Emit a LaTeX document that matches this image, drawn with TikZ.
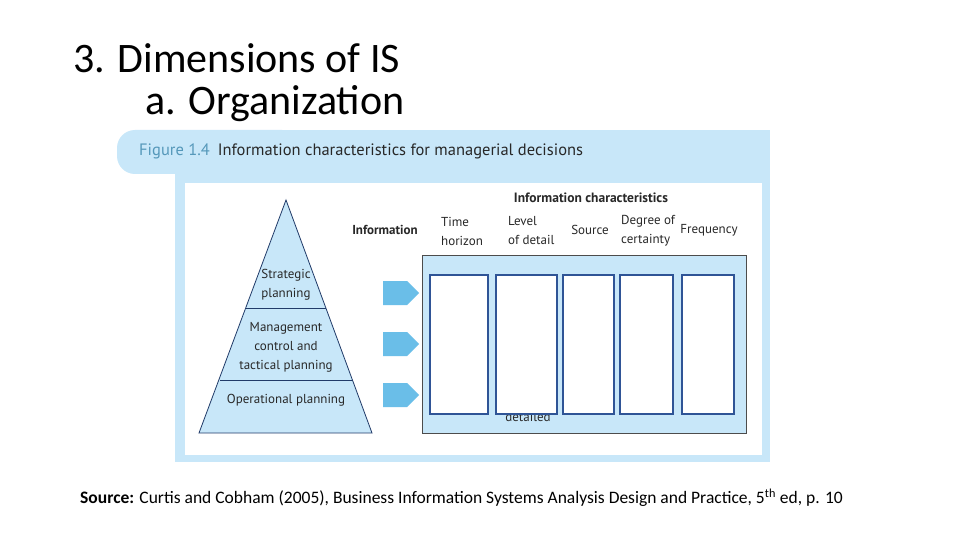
\documentclass[tikz,border=0pt]{standalone}
\usepackage{fontspec}
\setmainfont{Carlito}
\newfontfamily\figfont{PT Sans}
\usetikzlibrary{shapes.arrows}
\definecolor{lb}{RGB}{200,231,249}
\definecolor{hb}{RGB}{106,190,232}
\definecolor{db}{RGB}{47,84,150}
\definecolor{tx}{RGB}{40,40,40}
\tikzset{
 lbl/.style={font=\figfont\fontsize{13}{19}\selectfont,text=tx,align=left,inner sep=0},
 col/.style={draw=db,line width=1.2pt,fill=white},
 arr/.style={single arrow,fill=hb,draw=none,minimum height=36pt,minimum width=24pt,single arrow head extend=0pt,inner sep=0,single arrow head indent=0pt,shape border uses incircle=false}
}
\begin{document}
\begin{tikzpicture}[x=1pt,y=-1pt]
\useasboundingbox (0,0) rectangle (960,540);
\fill[white] (0,0) rectangle (960,540);
\node[anchor=west,font=\fontsize{42}{46}\selectfont,inner sep=0] (t1) at (73,58) {3. Dimensions of IS};
\node[anchor=west,font=\fontsize{42}{46}\selectfont,inner sep=0] (t2) at (145,104) {a. Organization};
% panel
\fill[lb] (175,130) rectangle (770,462);
\fill[lb,rounded corners=18pt] (117,130) rectangle (300,174);
\fill[white] (185,183) rectangle (762,455);
\node[anchor=west,inner sep=0,font=\figfont\fontsize{16.5}{18}\selectfont] (fig) at (139,151) {\textcolor{hb!80!black}{Figure 1.4}\hspace{8pt}\textcolor{tx}{Information characteristics for managerial decisions}};
% pyramid
\fill[lb,draw=db!70!black,line width=0.8pt] (286,200) -- (372,433) -- (199,433) -- cycle;
\draw[db!70!black,line width=0.8pt] (246,308) -- (326,308);
\draw[db!70!black,line width=0.8pt] (220,380) -- (353,380);
\node[lbl,align=center] (sp) at (286,285) {Strategic\\planning};
\node[lbl,align=center] (mc) at (286,347) {Management\\control and\\tactical planning};
\node[lbl,align=center] (op) at (286,400) {Operational planning};
% arrows
\node[arr] (a1) at (395,293) {};
\node[arr] (a2) at (395,344) {};
\node[arr] (a3) at (395,395) {};
% big box
\draw[fill=lb,draw=black!70,line width=0.8pt] (422,255) rectangle (746,433);
\node[lbl] (det) at (528,417) {detailed};
\draw[col] (430,275) rectangle (488,414);
\draw[col] (496,275) rectangle (557,414);
\draw[col] (563,275) rectangle (614,414);
\draw[col] (620,275) rectangle (673,414);
\draw[col] (682,275) rectangle (734,414);
% headings
\node[lbl,font=\figfont\bfseries\fontsize{13.5}{19}\selectfont] (ic) at (591,198) {Information characteristics};
\node[lbl,font=\figfont\bfseries\fontsize{13}{19}\selectfont] (inf) at (385,230) {Information};
\node[lbl,anchor=west,align=left] (th) at (441,231) {Time\\horizon};
\node[lbl,anchor=west,align=left] (ld) at (508,231) {Level\\of detail};
\node[lbl] (so) at (590,230) {Source};
\node[lbl,anchor=west,align=left] (dc) at (621,231) {Degree of\\certainty};
\node[lbl] (fr) at (709,230) {Frequency};
% source
\node[anchor=west,inner sep=0,font=\fontsize{17.5}{20}\selectfont] (src) at (80,498) {\textbf{Source:} Curtis and Cobham (2005), Business Information Systems Analysis Design and Practice, 5\textsuperscript{th} ed, p. 10};
\end{tikzpicture}
\end{document}
